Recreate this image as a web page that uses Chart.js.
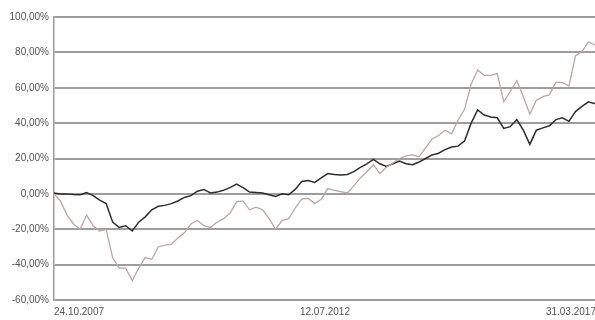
<!DOCTYPE html>
<html>
<head>
<meta charset="utf-8">
<script src="https://cdn.jsdelivr.net/npm/chart.js@4/dist/chart.umd.min.js"></script>
<style>
    html, body { margin: 0; padding: 0; background: #ffffff; }
    #performance_chart { display: block; }
</style>
</head>
<body>
<canvas id="performance_chart" width="595" height="320"></canvas>
<script>
// one sample every 1.5 months, starting 24.10.2007
const step_months = 1.5;
const x_tick_months = [0, 56.6, 113.2];
const x_tick_labels = ["24.10.2007", "12.07.2012", "31.03.2017"];

const dark_values = [
    0.5, 0, 0, -0.3, -0.5, 0.7, -1, -3.5, -5.5, -16,
    -19, -18, -21, -16, -13, -9, -7, -6.5, -5.5, -4,
    -2, -1, 1.5, 2.5, 0.5, 1, 2, 3.5, 5.5, 3.5,
    1, 0.8, 0.5, -0.5, -1.5, 0, -0.5, 2.5, 7, 7.5,
    6.5, 9, 11.5, 11, 10.7, 11, 12.6, 15, 17, 19.5,
    17, 15.5, 17, 18.5, 17, 16.5, 18, 20, 22, 23,
    25, 26.5, 27, 30, 40, 47.5, 44.6, 43.5, 43, 37,
    38, 42, 36, 28, 36, 37.3, 38.5, 42, 43, 41,
    46.5, 49.5, 52, 51
];

const light_values = [
    0, -4, -12, -17, -20, -12, -18, -21, -20, -36,
    -42, -42, -49, -42, -36, -37, -30, -29, -28.5, -25,
    -22, -17, -15, -18, -19, -16, -14, -11, -4.5, -4,
    -9, -7.5, -9, -14, -20, -15, -14, -8, -3, -2.5,
    -5.5, -3, 3, 2, 1.3, 0.5, 4.5, 9, 12.5, 16.5,
    11.5, 15, 17.5, 20, 21.5, 22, 21, 26, 31, 33,
    36, 34, 41.8, 48, 62, 70, 67, 67, 68, 52,
    58, 64, 55, 45, 53, 55, 56, 63, 63, 61,
    78, 80.5, 86, 84
];

const axis_font = { size: 10, family: "'Liberation Sans', Arial, sans-serif" };
const grid_colour = "#9d9d9d";

function toPoints(values){
    let points = [];
    for(let i = 0; i < values.length; i++){
        points.push({ "x": i * step_months, "y": values[i] });
    }
    return points;
}

function formatPercent(value){
    return value.toFixed(2).replace(".", ",") + "%";
}

const chart_canvas = document.getElementById("performance_chart");
const chart_context = chart_canvas.getContext("2d");

var line_data = {
    datasets: [{
        label: "light",
        data: toPoints(light_values),
        borderColor: "#bca6a6",
        borderWidth: 1.3,
        pointRadius: 0,
        tension: 0
    },{
        label: "dark",
        data: toPoints(dark_values),
        borderColor: "#2e2e2e",
        borderWidth: 1.5,
        pointRadius: 0,
        tension: 0
    }]
};

var line_options = {
    responsive: false,
    animation: false,
    layout: {
        padding: { top: 17, right: 0, bottom: 0, left: 0 }
    },
    plugins: {
        legend: { display: false },
        tooltip: { enabled: false }
    },
    scales: {
        x: {
            type: "linear",
            min: 0,
            max: 124.5,
            grid: { display: false, drawTicks: false },
            border: { display: false },
            afterBuildTicks: function(axis){
                axis.ticks = x_tick_months.map(m => ({ value: m }));
            },
            afterFit: function(axis){
                // let the last date run off the edge like in the original
                axis.height = 20;
                axis.paddingLeft = 0;
                axis.paddingRight = 0;
            },
            ticks: {
                align: "start",
                maxRotation: 0,
                autoSkip: false,
                padding: 6,
                color: "#555555",
                font: axis_font,
                callback: function(value, index){
                    return x_tick_labels[index];
                }
            }
        },
        y: {
            min: -60,
            max: 100,
            grid: {
                color: grid_colour,
                lineWidth: 2,
                drawTicks: false
            },
            border: { display: true, color: grid_colour, width: 1.5 },
            afterFit: function(axis){
                axis.width = 54;
            },
            ticks: {
                stepSize: 20,
                padding: 5,
                color: "#555555",
                font: axis_font,
                callback: function(value){
                    return formatPercent(value);
                }
            }
        }
    }
};

var performance_chart = new Chart(chart_context, {
    type: "line",
    data: line_data,
    options: line_options
});
</script>
</body>
</html>
